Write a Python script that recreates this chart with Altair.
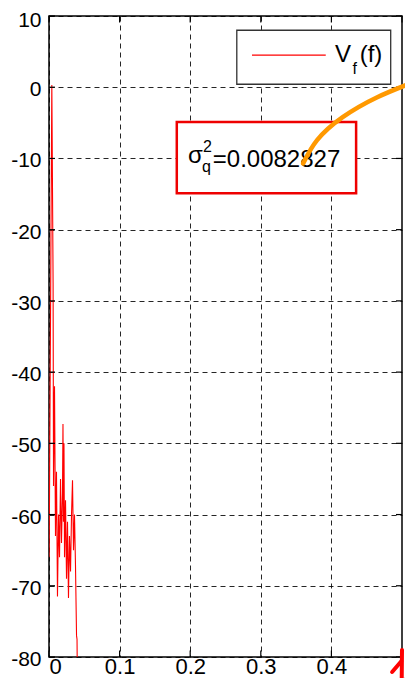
import altair as alt
import pandas as pd

# ---- data ----
freq = [0.0, 0.0007, 0.0040, 0.0052, 0.0058, 0.0064, 0.0078, 0.0092, 0.0106, 0.0120,
        0.0135, 0.0149, 0.0163, 0.0177, 0.0191, 0.0198, 0.0205, 0.0212, 0.0220, 0.0234,
        0.0248, 0.0262, 0.0276, 0.0290, 0.0305, 0.0319, 0.0333, 0.0347, 0.0361, 0.0375,
        0.0390, 0.0397, 0.0404]
vf_db = [-66, -58, 0.3, -18, -27.5, -56, -42, -63, -54, -71.5,
         -60, -66, -55, -64, -57, -47.3, -61, -50, -66, -58,
         -69, -61, -71.7, -63, -68, -60, -55.2, -65, -60, -67,
         -77, -77.5, -86]

x_ticks = [0, 0.1, 0.2, 0.3, 0.4, 0.5]
x_labels = [0, 0.1, 0.2, 0.3, 0.4]
y_ticks = [10, 0, -10, -20, -30, -40, -50, -60, -70, -80]

legend_label = ["V", "f", "(f)"]
sigma_text = ["σ", "q", "2", "=0.0082827"]

# arrow (annotation) path in data units
arrow_f = [0.360, 0.380, 0.416, 0.465, 0.516]
arrow_db = [-10.7, -7.4, -4.2, -1.4, 0.7]

# red handwritten mark in corner (data units)
mark_f = [0.486, 0.499, 0.5000, 0.4995, 0.494, 0.504]
mark_db = [-82.1, -80.6, -79.0, -84.1, -83.8, -83.2]
mark_id = [0, 0, 1, 1, 2, 2]

XD = [0, 0.5]
YD = [-80, 10]
FONT = "Liberation Sans"

xs = alt.Scale(domain=XD, nice=False, zero=False)
ys = alt.Scale(domain=YD, nice=False, zero=False)

df = pd.DataFrame({"f": freq, "v": vf_db})

base_x = alt.X("f:Q", scale=xs,
               axis=alt.Axis(values=x_labels, title=None, grid=True, ticks=False, domain=False,
                             labelFont=FONT, labelFontSize=22, labelColor="black",
                             labelBaseline="alphabetic", labelPadding=16, format="~g",
                             gridColor="black", gridOpacity=0.85,
                             gridDash=[5, 4], gridWidth=1))
base_y = alt.Y("v:Q", scale=ys,
               axis=alt.Axis(values=y_ticks, title=None, grid=True, ticks=False, domain=False,
                             labelFont=FONT, labelFontSize=21, labelColor="black",
                             labelExpr="datum.value < 0 ? '-' + abs(datum.value) : '' + datum.value",
                             labelOffset={"condition": {"test": "datum.value === 10", "value": 4},
                                          "value": 2.5},
                             labelPadding=8, gridColor="black", gridOpacity=0.85,
                             gridDash=[5, 4], gridWidth=1))

line = alt.Chart(df).mark_line(color="#ff0000", strokeWidth=1.1, clip=True, interpolate="linear").encode(
    x=base_x, y=base_y, order="f:Q")

# inward ticks
xt = pd.DataFrame({"f": x_ticks})
yt = pd.DataFrame({"v": y_ticks})
tick_style = dict(color="black", strokeWidth=1.2)
xt_bot = alt.Chart(xt).mark_rule(**tick_style).encode(
    x=alt.X("f:Q", scale=xs), y=alt.datum(-80, scale=ys), y2=alt.datum(-79.1))
xt_top = alt.Chart(xt).mark_rule(**tick_style).encode(
    x=alt.X("f:Q", scale=xs), y=alt.datum(10, scale=ys), y2=alt.datum(9.1))
yt_l = alt.Chart(yt).mark_rule(**tick_style).encode(
    y=alt.Y("v:Q", scale=ys), x=alt.datum(0, scale=xs), x2=alt.datum(0.0085))
yt_r = alt.Chart(yt).mark_rule(**tick_style).encode(
    y=alt.Y("v:Q", scale=ys), x=alt.datum(0.5, scale=xs), x2=alt.datum(0.4915))

# legend box
leg_box = alt.Chart(pd.DataFrame({"a": [0]})).mark_rect(
    fill="white", stroke="#333333", strokeWidth=1.3).encode(
    x=alt.datum(0.266, scale=xs), x2=alt.datum(0.484),
    y=alt.datum(8.0, scale=ys), y2=alt.datum(0.42))
leg_line = alt.Chart(pd.DataFrame({"a": [0]})).mark_rule(color="#ff0000", strokeWidth=1.2).encode(
    x=alt.datum(0.2875, scale=xs), x2=alt.datum(0.392), y=alt.datum(4.5, scale=ys))
leg_df = pd.DataFrame({"t": legend_label, "f": [0.405, 0.430, 0.440],
                       "v": [3.5, 1.9, 3.5], "s": [24, 16, 24]})
leg_text = alt.Chart(leg_df).mark_text(font=FONT, align="left", baseline="alphabetic",
                                       color="black").encode(
    x=alt.X("f:Q", scale=xs), y=alt.Y("v:Q", scale=ys), text="t:N",
    size=alt.Size("s:Q", scale=None, legend=None))

# sigma annotation box
sig_box = alt.Chart(pd.DataFrame({"a": [0]})).mark_rect(
    fill="white", stroke="#ee0000", strokeWidth=2.5).encode(
    x=alt.datum(0.181, scale=xs), x2=alt.datum(0.435),
    y=alt.datum(-4.9, scale=ys), y2=alt.datum(-14.9))
sig_df = pd.DataFrame({"t": sigma_text, "f": [0.197, 0.2167, 0.218, 0.232],
                       "v": [-10.67, -11.93, -9.12, -11.23], "s": [24, 16, 16, 24]})
sig_text = alt.Chart(sig_df).mark_text(font=FONT, align="left", baseline="alphabetic",
                                       color="black").encode(
    x=alt.X("f:Q", scale=xs), y=alt.Y("v:Q", scale=ys), text="t:N",
    size=alt.Size("s:Q", scale=None, legend=None))

# orange arrow
arr = alt.Chart(pd.DataFrame({"f": arrow_f, "v": arrow_db})).mark_line(
    color="#ff9900", strokeWidth=4.5, strokeCap="round", clip=False, interpolate="natural").encode(
    x=alt.X("f:Q", scale=xs), y=alt.Y("v:Q", scale=ys), order="f:Q")

# red corner mark
red_mark = alt.Chart(pd.DataFrame({"f": mark_f, "v": mark_db, "id": mark_id})).mark_line(
    color="#ff0000", strokeWidth=4, strokeCap="round", clip=False).encode(
    x=alt.X("f:Q", scale=xs), y=alt.Y("v:Q", scale=ys), detail="id:N")

chart = alt.layer(
    line, xt_bot, xt_top, yt_l, yt_r, leg_box, leg_line, leg_text, sig_box, sig_text, arr, red_mark
).properties(
    width=353, height=641,
    autosize=alt.AutoSizeParams(type="none"),
    padding={"left": 41, "top": 8, "right": 3, "bottom": 21},
    background="white",
).configure_view(stroke="black", strokeWidth=1.5)

chart.save("out.html", embed_options={"renderer": "svg", "actions": False})
